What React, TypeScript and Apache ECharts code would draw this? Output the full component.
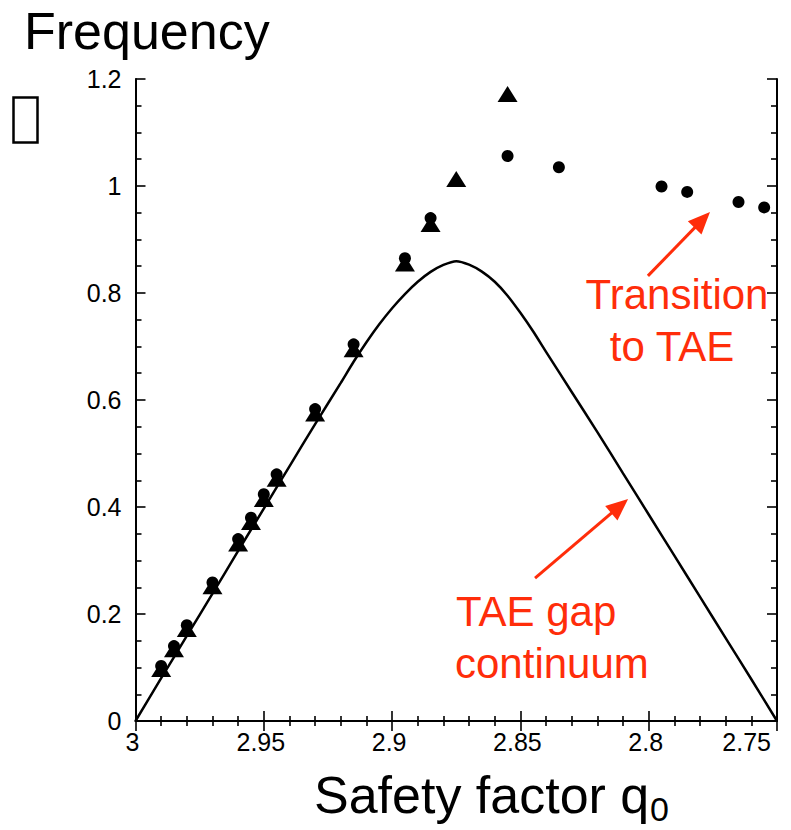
import React, { useEffect, useRef } from "react";
import * as echarts from "echarts";

const circleX = [2.99, 2.985, 2.98, 2.97, 2.96, 2.955, 2.95, 2.945, 2.93, 2.915, 2.895, 2.885, 2.855, 2.835, 2.795, 2.785, 2.765, 2.755];
const circleY = [0.103, 0.140, 0.179, 0.259, 0.340, 0.380, 0.424, 0.461, 0.583, 0.704, 0.865, 0.940, 1.056, 1.035, 0.999, 0.989, 0.970, 0.960];

const triangleX = [2.99, 2.985, 2.98, 2.97, 2.96, 2.955, 2.95, 2.945, 2.93, 2.915, 2.895, 2.885, 2.875, 2.855];
const triangleY = [0.097, 0.134, 0.172, 0.252, 0.332, 0.372, 0.415, 0.453, 0.575, 0.695, 0.855, 0.929, 1.013, 1.172];

const curveX = [3.0, 2.99, 2.98, 2.97, 2.96, 2.95, 2.94, 2.93, 2.92, 2.915, 2.91, 2.905, 2.9, 2.895, 2.89, 2.885, 2.88, 2.875, 2.87, 2.865, 2.86, 2.855, 2.85, 2.845, 2.84, 2.83, 2.82, 2.81, 2.8, 2.79, 2.78, 2.77, 2.76, 2.75];
const curveY = [0, 0.08, 0.159, 0.238, 0.318, 0.397, 0.476, 0.555, 0.632, 0.6715, 0.708, 0.7415, 0.7715, 0.798, 0.821, 0.8395, 0.8525, 0.8595, 0.853, 0.84, 0.821, 0.795, 0.763, 0.728, 0.69, 0.615, 0.54, 0.463, 0.386, 0.309, 0.232, 0.155, 0.078, 0];

const xTicks = ["3", "2.95", "2.9", "2.85", "2.8", "2.75"];
const yTicks = ["0", "0.2", "0.4", "0.6", "0.8", "1", "1.2"];

// arrows: [startX, startY, endX, endY]
const arrowTransition = [2.8003, 0.832, 2.7791, 0.9366];
const arrowGap = [2.8443, 0.267, 2.8113, 0.4017];

const RED = "#ff2d0a";
const FONT = "'Liberation Sans', Arial, sans-serif";

function fmt(v: number) {
  return String(parseFloat(v.toFixed(2)));
}

export default function App() {
  const ref = useRef<HTMLDivElement>(null);
  useEffect(() => {
    const chart = echarts.init(ref.current!, null, { renderer: "svg" });
    const axisCommon = {
      axisLine: { show: true, lineStyle: { color: "#000", width: 2 } },
      splitLine: { show: false },
    };
    const tick = { show: true, inside: true, length: 10, lineStyle: { color: "#000", width: 1.6 } };
    const option: any = {
      animation: false,
      backgroundColor: "#fff",
      textStyle: { fontFamily: FONT },
      grid: { left: 135.5, top: 79, right: 14, bottom: 109, containLabel: false, outerBoundsMode: "none" },
      xAxis: [
        {
          type: "value", inverse: true, min: 2.75, max: 3, interval: 0.05,
          ...axisCommon,
          axisTick: tick,
          minorTick: { show: true, splitNumber: 5, length: 5, lineStyle: { color: "#000", width: 1.6 } },
          minorSplitLine: { show: false },
          axisLabel: {
            color: "#000", fontSize: 25, margin: 8, fontFamily: FONT,
            padding: [0, 6, 0, 0],
            alignMinLabel: "right",
            formatter: (v: number) => { const s = fmt(v); return xTicks.includes(s) ? s : ""; },
          },
        },
        {
          type: "value", inverse: true, min: 2.75, max: 3, interval: 0.05, position: "top",
          ...axisCommon,
          axisTick: tick,
          minorTick: { show: true, splitNumber: 5, length: 5, lineStyle: { color: "#000", width: 1.6 } },
          axisLabel: { show: false },
        },
      ],
      yAxis: [
        {
          type: "value", min: 0, max: 1.2, interval: 0.2,
          ...axisCommon,
          axisTick: tick,
          minorTick: { show: true, splitNumber: 4, length: 6, lineStyle: { color: "#000", width: 1.6 } },
          axisLabel: {
            color: "#000", fontSize: 25, margin: 14, fontFamily: FONT,
            formatter: (v: number) => { const s = fmt(v); return yTicks.includes(s) ? s : ""; },
          },
        },
        {
          type: "value", min: 0, max: 1.2, interval: 0.2, position: "right",
          ...axisCommon,
          axisTick: tick,
          minorTick: { show: true, splitNumber: 4, length: 6, lineStyle: { color: "#000", width: 1.6 } },
          axisLabel: { show: false },
        },
      ],
      series: [
        {
          type: "line",
          data: curveX.map((x, i) => [x, curveY[i]]),
          showSymbol: false,
          symbol: "none",
          smooth: 0.2,
          lineStyle: { color: "#000", width: 2.5 },
          z: 2,
          markLine: {
            silent: true,
            symbol: ["none", "triangle"],
            symbolSize: [19, 22],
            label: { show: false },
            lineStyle: { color: RED, width: 3, type: "solid", opacity: 1 },
            itemStyle: { color: RED },
            data: [
              [{ coord: [arrowTransition[0], arrowTransition[1]] }, { coord: [arrowTransition[2], arrowTransition[3]] }],
              [{ coord: [arrowGap[0], arrowGap[1]] }, { coord: [arrowGap[2], arrowGap[3]] }],
            ],
          },
        },
        {
          type: "scatter",
          data: triangleX.map((x, i) => [x, triangleY[i]]),
          symbol: "triangle",
          symbolSize: [20, 16],
          itemStyle: { color: "#000", opacity: 1 },
          z: 3,
        },
        {
          type: "scatter",
          data: circleX.map((x, i) => [x, circleY[i]]),
          symbol: "circle",
          symbolSize: 12,
          itemStyle: { color: "#000", opacity: 1 },
          z: 4,
        },
      ],
      graphic: [
        { type: "text", left: 24, top: 5, style: { text: "Frequency", font: `52px ${FONT}`, fill: "#000" } },
        { type: "rect", shape: { x: 13.5, y: 97.5, width: 24, height: 45 }, style: { fill: "none", stroke: "#000", lineWidth: 2.5 } },
        { type: "text", x: 314, y: 795, style: { text: "Safety factor q", font: `52px ${FONT}`, fill: "#000", textVerticalAlign: "middle", textAlign: "left" } },
        { type: "text", x: 650, y: 809, style: { text: "0", font: `34px ${FONT}`, fill: "#000", textVerticalAlign: "middle", textAlign: "left" } },
        { type: "text", x: 677, y: 294, style: { text: "Transition", font: `42px ${FONT}`, fill: RED, textVerticalAlign: "middle", textAlign: "center" } },
        { type: "text", x: 672, y: 346, style: { text: "to TAE", font: `42px ${FONT}`, fill: RED, textVerticalAlign: "middle", textAlign: "center" } },
        { type: "text", x: 456, y: 611, style: { text: "TAE gap", font: `42px ${FONT}`, fill: RED, textVerticalAlign: "middle", textAlign: "left" } },
        { type: "text", x: 455, y: 663, style: { text: "continuum", font: `42px ${FONT}`, fill: RED, textVerticalAlign: "middle", textAlign: "left" } },
      ],
    };
    chart.setOption(option);
    return () => chart.dispose();
  }, []);
  return <div ref={ref} style={{ position: "fixed", left: 0, top: 0, width: 791, height: 830 }} />;
}
